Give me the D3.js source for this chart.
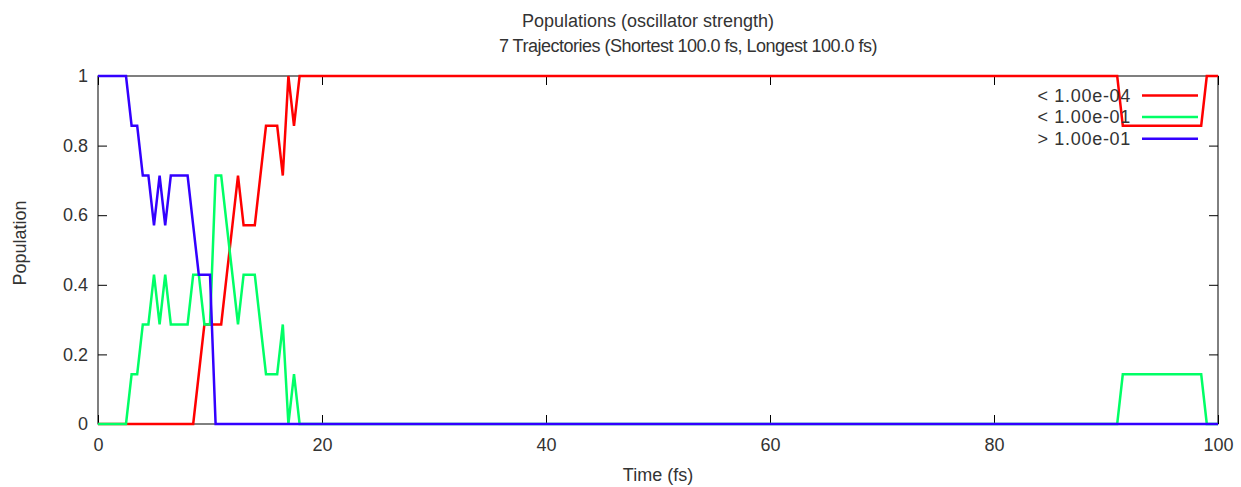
<!DOCTYPE html>
<html>
<head>
<meta charset="utf-8">
<script src="https://cdn.jsdelivr.net/npm/d3@7"></script>
<style>
  html, body { margin: 0; padding: 0; background: #fff; }
  svg { display: block; font-family: "Liberation Sans", Arial, sans-serif; }
  .axis text { fill: #333; font-size: 18px; }
  .axis line { stroke: #000; }
</style>
</head>
<body>
<svg id="chart" width="1241" height="487"></svg>
<script>
// Time points (fs) where the population fractions change
const times = [0, 2.5, 3, 3.5, 4, 4.5, 5, 5.5, 6, 6.5, 8, 8.5, 9, 9.5, 10, 10.5, 11,
  11.5, 12, 12.5, 13, 14, 15, 16, 16.5, 17, 17.5, 18, 91, 91.5, 98.5, 99, 100];

// Fraction of the 7 trajectories in each oscillator-strength class
const popLow = [0, 0, 0, 0, 0, 0, 0, 0, 0, 0, 0, 0, 0.143, 0.286, 0.286, 0.286, 0.286,
  0.429, 0.571, 0.714, 0.571, 0.571, 0.857, 0.857, 0.714, 1, 0.857, 1, 1, 0.857, 0.857, 1, 1];
const popMid = [0, 0, 0.143, 0.143, 0.286, 0.286, 0.429, 0.286, 0.429, 0.286, 0.286, 0.429, 0.429, 0.286, 0.286, 0.714, 0.714,
  0.571, 0.429, 0.286, 0.429, 0.429, 0.143, 0.143, 0.286, 0, 0.143, 0, 0, 0.143, 0.143, 0, 0];
const popHigh = [1, 1, 0.857, 0.857, 0.714, 0.714, 0.571, 0.714, 0.571, 0.714, 0.714, 0.571, 0.429, 0.429, 0.429, 0, 0,
  0, 0, 0, 0, 0, 0, 0, 0, 0, 0, 0, 0, 0, 0, 0, 0];

const seriesNames = ["< 1.00e-04", "< 1.00e-01", "> 1.00e-01"];
const seriesColors = ["#ff0000", "#00ff66", "#3300ff"];
const xTicks = [0, 20, 40, 60, 80, 100];
const yTicks = [0, 0.2, 0.4, 0.6, 0.8, 1];

const titleLines = ["Populations (oscillator strength)",
  "7 Trajectories (Shortest 100.0 fs, Longest 100.0 fs)"];

const svg = d3.select("#chart");
const plot = { left: 98, right: 1218, top: 76, bottom: 424 };

const x = d3.scaleLinear().domain([0, 100]).range([plot.left, plot.right]);
const y = d3.scaleLinear().domain([0, 1]).range([plot.bottom, plot.top]);

const tickLen = 9;
const fmtY = d => d === 0 ? "0" : d === 1 ? "1" : d3.format(".1f")(d);

// Axes with inward ticks on all four sides
svg.append("g").attr("class", "axis")
  .attr("transform", `translate(0,${plot.bottom})`)
  .call(d3.axisBottom(x).tickValues(xTicks).tickSizeInner(-tickLen).tickSizeOuter(0).tickPadding(14))
  .call(g => g.select(".domain").remove());
svg.append("g").attr("class", "axis")
  .attr("transform", `translate(0,${plot.top})`)
  .call(d3.axisTop(x).tickValues(xTicks).tickSizeInner(-tickLen).tickSizeOuter(0).tickFormat(""))
  .call(g => g.select(".domain").remove());
svg.append("g").attr("class", "axis")
  .attr("transform", `translate(${plot.left},0)`)
  .call(d3.axisLeft(y).tickValues(yTicks).tickSizeInner(-tickLen).tickSizeOuter(0).tickPadding(10).tickFormat(fmtY))
  .call(g => g.select(".domain").remove());
svg.append("g").attr("class", "axis")
  .attr("transform", `translate(${plot.right},0)`)
  .call(d3.axisRight(y).tickValues(yTicks).tickSizeInner(-tickLen).tickSizeOuter(0).tickFormat(""))
  .call(g => g.select(".domain").remove());

// Plot border
svg.append("rect")
  .attr("x", plot.left).attr("y", plot.top)
  .attr("width", plot.right - plot.left).attr("height", plot.bottom - plot.top)
  .attr("fill", "none").attr("stroke", "#000").attr("stroke-width", 1);

// Titles and axis labels
svg.append("text").attr("x", 648).attr("y", 27).attr("text-anchor", "middle")
  .attr("fill", "#333").style("font-size", "18px").text(titleLines[0]);
svg.append("text").attr("x", 688).attr("y", 52).attr("text-anchor", "middle")
  .attr("fill", "#333").style("font-size", "18px").style("letter-spacing", "-0.5px").text(titleLines[1]);
svg.append("text").attr("x", 658).attr("y", 481).attr("text-anchor", "middle")
  .attr("fill", "#333").style("font-size", "18px").text("Time (fs)");
svg.append("text").attr("transform", "translate(26,243) rotate(-90)").attr("text-anchor", "middle")
  .attr("fill", "#333").style("font-size", "18px").text("Population");

// Population lines
const seriesValues = [popLow, popMid, popHigh];
const line = d3.line().x(d => x(d[0])).y(d => y(d[1]));
seriesValues.forEach((vals, i) => {
  svg.append("path")
    .datum(times.map((t, j) => [t, vals[j]]))
    .attr("fill", "none")
    .attr("stroke", seriesColors[i])
    .attr("stroke-width", 2.5)
    .attr("stroke-linejoin", "miter")
    .attr("d", line);
});

// Legend
const legend = svg.append("g");
seriesNames.forEach((name, i) => {
  const ly = 95.4 + i * 21.7;
  legend.append("text").attr("x", 1131).attr("y", ly).attr("dy", "0.35em")
    .attr("text-anchor", "end").attr("fill", "#333").style("font-size", "18px")
    .style("letter-spacing", "0.7px").text(name);
  legend.append("line").attr("x1", 1142).attr("x2", 1198).attr("y1", ly).attr("y2", ly)
    .attr("stroke", seriesColors[i]).attr("stroke-width", 2.5);
});
</script>
</body>
</html>
